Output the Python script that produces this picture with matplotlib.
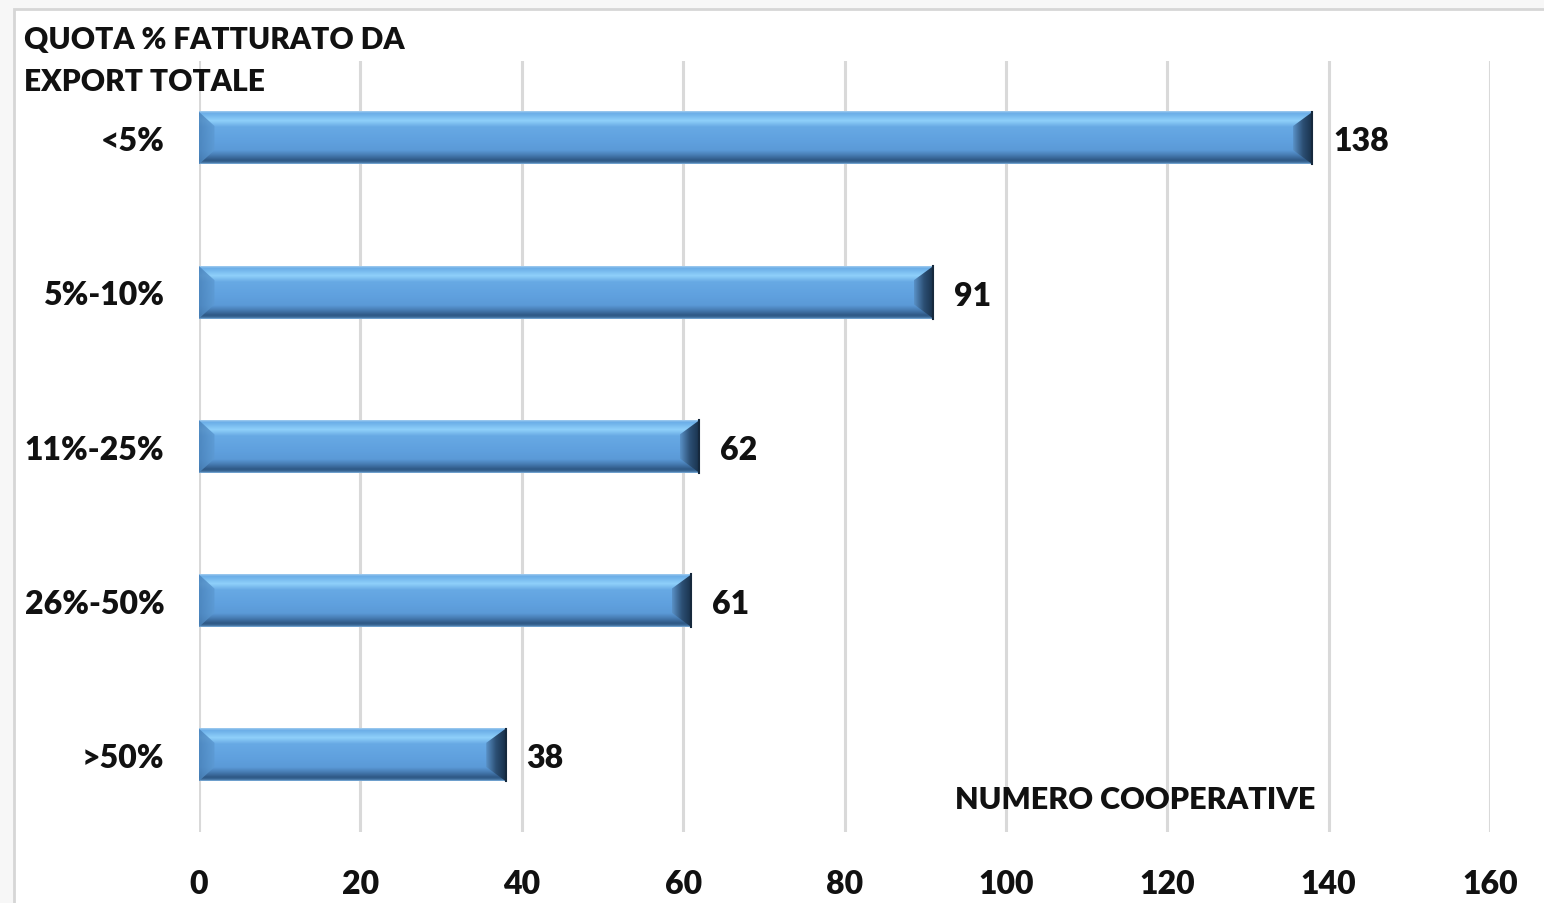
import matplotlib.pyplot as plt
import numpy as np
from matplotlib.colors import LinearSegmentedColormap
from matplotlib.patches import Polygon, Rectangle

categories = ['<5%', '5%-10%', '11%-25%', '26%-50%', '>50%']
values = [138, 91, 62, 61, 38]
xticks = [0, 20, 40, 60, 80, 100, 120, 140, 160]

title = 'QUOTA % FATTURATO DA\nEXPORT TOTALE'
xlabel = 'NUMERO COOPERATIVE'

plt.rcParams['font.family'] = ['Lato', 'DejaVu Sans']
plt.rcParams['font.weight'] = 'heavy'
W = 'heavy'

# vertical shading of the bar body (top -> bottom)
body = LinearSegmentedColormap.from_list('body', [
    (0.00, '#a4cdef'), (0.04, '#6aade7'), (0.18, '#8fd0fa'), (0.30, '#67a9e4'),
    (0.55, '#60a1df'), (0.74, '#5b9ad7'), (0.82, '#4a80b8'), (0.93, '#2e5884'),
    (0.97, '#3d6c9b'), (1.00, '#82b3df')])
# horizontal shading of the bevels
endcap = LinearSegmentedColormap.from_list('endcap', ['#5a92c8', '#2c4f74', '#182f48'])
leftcap = LinearSegmentedColormap.from_list('leftcap', ['#4a83bb', '#5d9bd4'])


def main():
    fig = plt.figure(figsize=(15.44, 9.04), dpi=100, facecolor='#f7f7f7')
    fig.patches.append(Rectangle((14 / 1544, -0.1), 1.1, 1.1 - 10 / 904,
                                 transform=fig.transFigure, facecolor='white',
                                 edgecolor='#d6d6d6', lw=2, zorder=-1))
    ax = fig.add_axes([199 / 1544, 71 / 904, 1291 / 1544, 771 / 904])
    ax.set_facecolor('none')

    y = np.arange(len(categories))
    h = 0.34
    ax.set_xlim(0, 160)
    ax.set_ylim(len(categories) - 0.5, -0.5)

    grad = np.linspace(0, 1, 256).reshape(-1, 1)
    hgrad = np.linspace(0, 1, 256).reshape(1, -1)
    bx = 2.4   # bevel width in data units (x)
    by = h * 0.27  # bevel depth (y)
    for yi, v in zip(y, values):
        top, bot = yi - h / 2, yi + h / 2
        ax.imshow(grad, cmap=body, aspect='auto', extent=(0, v, bot, top),
                  zorder=3, interpolation='bilinear')
        # left bevel
        lx = bx * 0.8
        lcap = Polygon([(0, top), (lx, top + by), (lx, bot - by), (0, bot)],
                       closed=True, facecolor='none', edgecolor='none', zorder=4)
        ax.add_patch(lcap)
        im = ax.imshow(hgrad, cmap=leftcap, aspect='auto', extent=(0, lx, bot, top),
                       zorder=4, interpolation='bilinear', alpha=0.85)
        im.set_clip_path(lcap)
        # right bevel
        cap = Polygon([(v - bx, top + by), (v, top), (v, bot), (v - bx, bot - by)],
                      closed=True, facecolor='none', edgecolor='none', zorder=4)
        ax.add_patch(cap)
        im = ax.imshow(hgrad, cmap=endcap, aspect='auto', extent=(v - bx, v, bot, top),
                       zorder=4, interpolation='bilinear')
        im.set_clip_path(cap)
        ax.plot([v, v], [top, bot], color='#16293d', lw=1.5, zorder=5)
        ax.annotate(str(v), (v, yi), xytext=(15, -2), textcoords='offset points',
                    ha='left', va='center', fontsize=23, fontweight=W, color='#111111')

    ax.set_ylim(len(categories) - 0.5, -0.5)
    ax.set_xlim(0, 160)

    ax.set_xticks(xticks)
    ax.set_yticks(y)
    ax.set_yticklabels(categories)
    ax.tick_params(axis='both', length=0, labelsize=23, colors='#111111')
    ax.tick_params(axis='x', pad=27)
    ax.tick_params(axis='y', pad=25)
    for lab in ax.get_xticklabels() + ax.get_yticklabels():
        lab.set_fontweight(W)

    ax.grid(axis='x', color='#d9d9d9', lw=2.2, zorder=0)
    ax.grid(axis='y', visible=False)
    ax.set_axisbelow(True)
    for s in ax.spines.values():
        s.set_visible(False)

    ax.text(0.8645, 0.043, xlabel, transform=ax.transAxes, ha='right', va='center',
            fontsize=22, fontweight=W, color='#111111')
    fig.text(24 / 1544, 1 - 26 / 904, title, ha='left', va='top', fontsize=21.5,
             fontweight=W, color='#111111', linespacing=1.6)

    fig.savefig('out.png', dpi=100, facecolor=fig.get_facecolor())


if __name__ == '__main__':
    main()
